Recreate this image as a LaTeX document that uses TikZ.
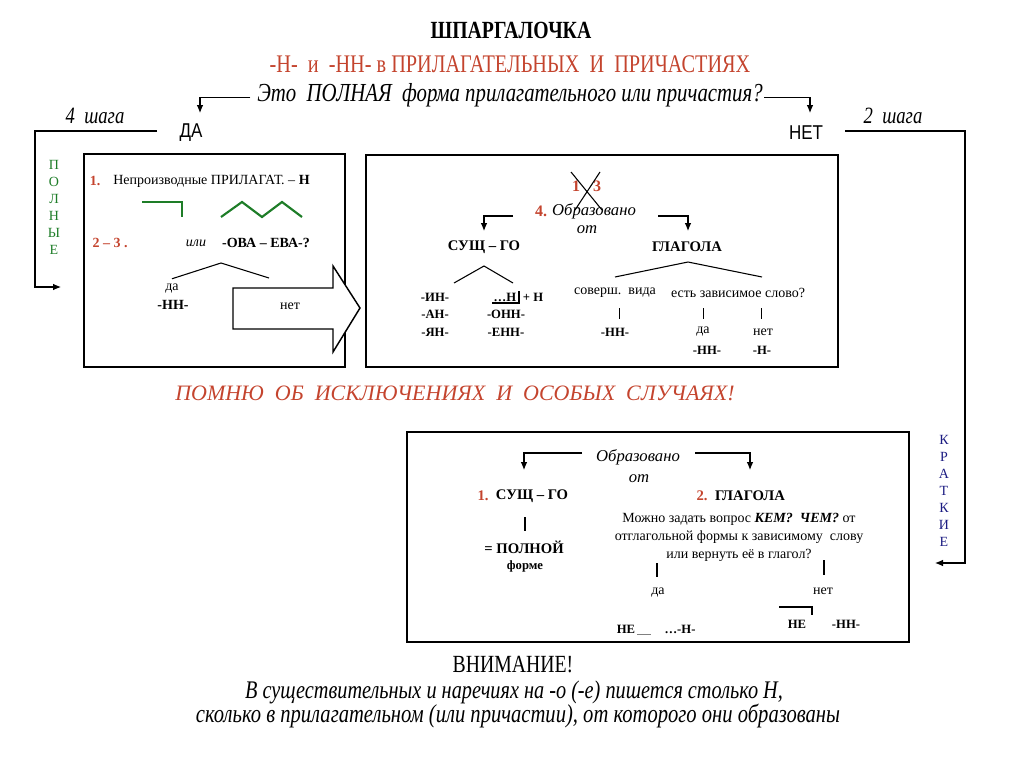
\documentclass[tikz,border=0pt]{standalone}
\usepackage{fontspec}
\setmainfont{Liberation Serif}
\newfontfamily\narrowfont{Liberation Serif}[FakeStretch=0.8]
\newfontfamily\answerfont{Liberation Sans}[FakeStretch=0.85]
\usetikzlibrary{arrows.meta}
\definecolor{ruleRed}{RGB}{196,68,46}
\definecolor{ruleGreen}{RGB}{30,125,40}
\definecolor{ruleBlue}{RGB}{28,28,130}
\tikzset{
  frame/.style = {draw, line width = 1.1},
  link/.style = {line width = 0.8},
  pointer/.style = {link, -{Latex[length = 6pt, width = 5pt]}},
  green line/.style = {draw = ruleGreen, line width = 1.6},
  txt/.style = {inner sep = 0pt, font = \fontsize{10.5}{13.5}\selectfont},
  bold/.style = {inner sep = 0pt, font = \fontsize{9.5}{12}\selectfont\bfseries},
  head/.style = {inner sep = 0pt, font = \fontsize{11}{13}\selectfont\bfseries},
  ital/.style = {inner sep = 0pt, font = \fontsize{12.5}{14}\selectfont\itshape},
  numred/.style = {inner sep = 0pt, text = ruleRed, font = \fontsize{10.5}{12}\selectfont\bfseries},
  letter/.style = {inner sep = 0pt, font = \fontsize{10.5}{12}\selectfont},
  steps/.style = {inner sep = 0pt, font = \fontsize{17.5}{20}\selectfont\narrowfont\itshape},
  answer/.style = {inner sep = 0pt, font = \fontsize{15}{18}\selectfont\answerfont}
}
\begin{document}
\begin{tikzpicture}[x = 0.75pt, y = -0.75pt]
\useasboundingbox (0,0) rectangle (1024,767);
% title lines
\node (title) at (511,30) [inner sep = 0pt, font = \fontsize{18.5}{20}\selectfont\narrowfont\bfseries] {ШПАРГАЛОЧКА};
\node (subtitle) at (510,64) [inner sep = 0pt, text = ruleRed, font = \fontsize{19}{22}\selectfont\narrowfont] {-Н-\ \ и\ \ -НН- в ПРИЛАГАТЕЛЬНЫХ\ \ И\ \ ПРИЧАСТИЯХ};
\node (question) at (510,95) [inner sep = 0pt, font = \fontsize{19.5}{22}\selectfont\narrowfont\itshape] {Это\ \ ПОЛНАЯ\ \ форма прилагательного или причастия?};
% the two branches
\coordinate (daTip) at (200,113);
\coordinate (netTip) at (810,113);
\draw [pointer] ([xshift = -5pt, yshift = -2pt]question.west) -| (daTip);
\draw [pointer] ([xshift = 1pt, yshift = -2pt]question.east) -| (netTip);
\node (da) at (191,133) [answer] {ДА};
\node (net) at (806,133) [answer] {НЕТ};
\node (fourSteps) at (95,116) [steps] {4\ \ шага};
\node (twoSteps) at (893,116) [steps] {2\ \ шага};
\coordinate (fullStart) at (157,131);
\coordinate (fullEnd) at (61,287);
\draw [pointer] (fullStart) -- (35,131) |- (fullEnd);
\coordinate (shortStart) at (845,131);
\coordinate (shortEnd) at (935,563);
\draw [pointer] (shortStart) -- (965,131) |- (shortEnd);
\foreach \ch [count = \i from 0] in {П,О,Л,Н,Ы,Е}
  \node (full\i) at (54,165+17*\i) [letter, text = ruleGreen] {\ch};
\foreach \ch [count = \i from 0] in {К,Р,А,Т,К,И,Е}
  \node (short\i) at (944,440+17*\i) [letter, text = ruleBlue] {\ch};
% box of full forms
\draw [frame] (84,154) rectangle (345,367);
\node (one) at (95,181) [numred] {1.};
\node (plain) at (113,181) [txt, anchor = west] {Непроизводные ПРИЛАГАТ. – \textbf{Н}};
\draw [green line] (142,202) -- (182,202) -- (182,217);
\draw [green line] (221,217) -- (242,202) -- (262,217) -- (282,202) -- (302,217);
\node (twoThree) at (110,243) [numred] {2 – 3 .};
\node (ili) at (196,243) [txt, font = \fontsize{10.5}{12}\selectfont\itshape] {или};
\node (ova) at (266,243) [bold, font = \fontsize{10.5}{12}\selectfont\bfseries] {-ОВА – ЕВА-?};
\coordinate (ovaFork) at (221,263);
\node (daFull) at (172,289) [txt] {да};
\node (nnFull) at (173,305) [bold, font = \fontsize{10.5}{12}\selectfont\bfseries] {-НН-};
\draw [link] (ovaFork) -- ([yshift = 4pt]daFull.north);
\draw [link] (ovaFork) -- (269,278);
\draw [frame, fill = white] (233,288) -- (333,288) -- (333,266) -- (360,308)
  -- (333,352) -- (333,329) -- (233,329) -- cycle;
\node (netFull) at (290,306) [txt] {нет};
% box of the fourth step
\draw [frame] (366,155) rectangle (838,367);
\node (crossOne) at (576,186) [numred, font = \fontsize{12}{14}\selectfont\bfseries] {1};
\node (crossThree) at (597,186) [numred, font = \fontsize{12}{14}\selectfont\bfseries] {3};
\draw [link] (571,172) -- (602,210);
\draw [link] (600,172) -- (575,210);
\node (four) at (541,211) [numred, font = \fontsize{12}{14}\selectfont\bfseries] {4.};
\node (formed) at (594,211) [ital] {Образовано};
\node (from) at (587,230) [ital] {от};
\coordinate (nounTip) at (484,231);
\coordinate (verbTip) at (688,231);
\draw [pointer] (513,216) -| (nounTip);
\draw [pointer] (658,216) -| (verbTip);
\node (noun) at (484,247) [head] {СУЩ – ГО};
\node (verb) at (687,247) [head] {ГЛАГОЛА};
\coordinate (nounFork) at (484,266);
\draw [link] (454,283) -- (nounFork) -- (513,283);
\coordinate (verbFork) at (688,262);
\draw [link] (615,277) -- (verbFork) -- (762,277);
\foreach \s [count = \i from 0] in {-ИН-,-АН-,-ЯН-}
  \node (suffA\i) at (435,297+17.5*\i) [bold] {\s};
\node (dotsN) at (505,297) [bold] {…Н};
\draw [link] (492,303) -- (519,303) -- (519,291);
\node (plusN) at (533,297) [bold] {+ Н};
\node (suffB1) at (506,314.5) [bold] {-ОНН-};
\node (suffB2) at (506,332) [bold] {-ЕНН-};
\node (perf) at (615,293) [txt] {соверш.\ \ вида};
\node (dep) at (738,293) [txt] {есть зависимое слово?};
\node (perfNN) at (615,332) [bold] {-НН-};
\node (depYes) at (703,332) [txt] {да};
\node (depNo) at (763,332) [txt] {нет};
\node (depYesNN) at (707,350) [bold] {-НН-};
\node (depNoN) at (762,350) [bold] {-Н-};
\foreach \x in {619,703,761}
  \draw [line width = 0.6] (\x,308) -- (\x,319);
% warning
\node (remember) at (455,393) [inner sep = 0pt, text = ruleRed, font = \fontsize{16.5}{20}\selectfont\itshape] {ПОМНЮ\ \ ОБ\ \ ИСКЛЮЧЕНИЯХ\ \ И\ \ ОСОБЫХ\ \ СЛУЧАЯХ!};
% box of short forms
\draw [frame] (407,432) rectangle (909,642);
\node (formedS) at (638,457) [ital] {Образовано};
\node (fromS) at (639,479) [ital] {от};
\coordinate (nounTipS) at (524,470);
\coordinate (verbTipS) at (750,470);
\draw [pointer] (582,453) -| (nounTipS);
\draw [pointer] (695,453) -| (verbTipS);
\node (oneS) at (483,496) [numred, font = \fontsize{11}{13}\selectfont\bfseries] {1.};
\node (nounS) at (532,496) [head] {СУЩ – ГО};
\node (twoS) at (702,496) [numred, font = \fontsize{11}{13}\selectfont\bfseries] {2.};
\node (verbS) at (750,496) [head] {ГЛАГОЛА};
\draw [link] (525,517) -- (525,531);
\node (fullS) at (524,547) [head] {= ПОЛНОЙ};
\node (formS) at (525,566) [bold] {форме};
\node (askS) at (739,537) [txt, align = center] {Можно задать вопрос \textbf{\textit{КЕМ?\ \ ЧЕМ?}} от\\
  отглагольной формы к зависимому\ \ слову\\ или вернуть её в глагол?};
\draw [link] (657,563) -- (657,577);
\draw [link] (824,560) -- (824,575);
\node (yesS) at (658,593) [txt] {да};
\node (noS) at (823,591) [txt] {нет};
\node (neA) at (626,629) [bold] {НЕ};
\draw [line width = 0.6, gray] (637,634) -- (651,634);
\node (endN) at (680,629) [bold] {…-Н-};
\draw [link] (779,607) -- (812,607) -- (812,615);
\node (neB) at (797,624) [bold] {НЕ};
\node (endNN) at (846,624) [bold] {-НН-};
% note at the bottom
\node (attention) at (513,665) [inner sep = 0pt, font = \fontsize{18.5}{22}\selectfont\narrowfont] {ВНИМАНИЕ!};
\node (ruleOne) at (514,692) [inner sep = 0pt, font = \fontsize{19}{22}\selectfont\narrowfont\itshape] {В существительных и наречиях на -о (-е) пишется столько Н,};
\node (ruleTwo) at (518,716) [inner sep = 0pt, font = \fontsize{19.3}{22}\selectfont\narrowfont\itshape] {сколько в прилагательном (или причастии), от которого они образованы};
\end{tikzpicture}
\end{document}
